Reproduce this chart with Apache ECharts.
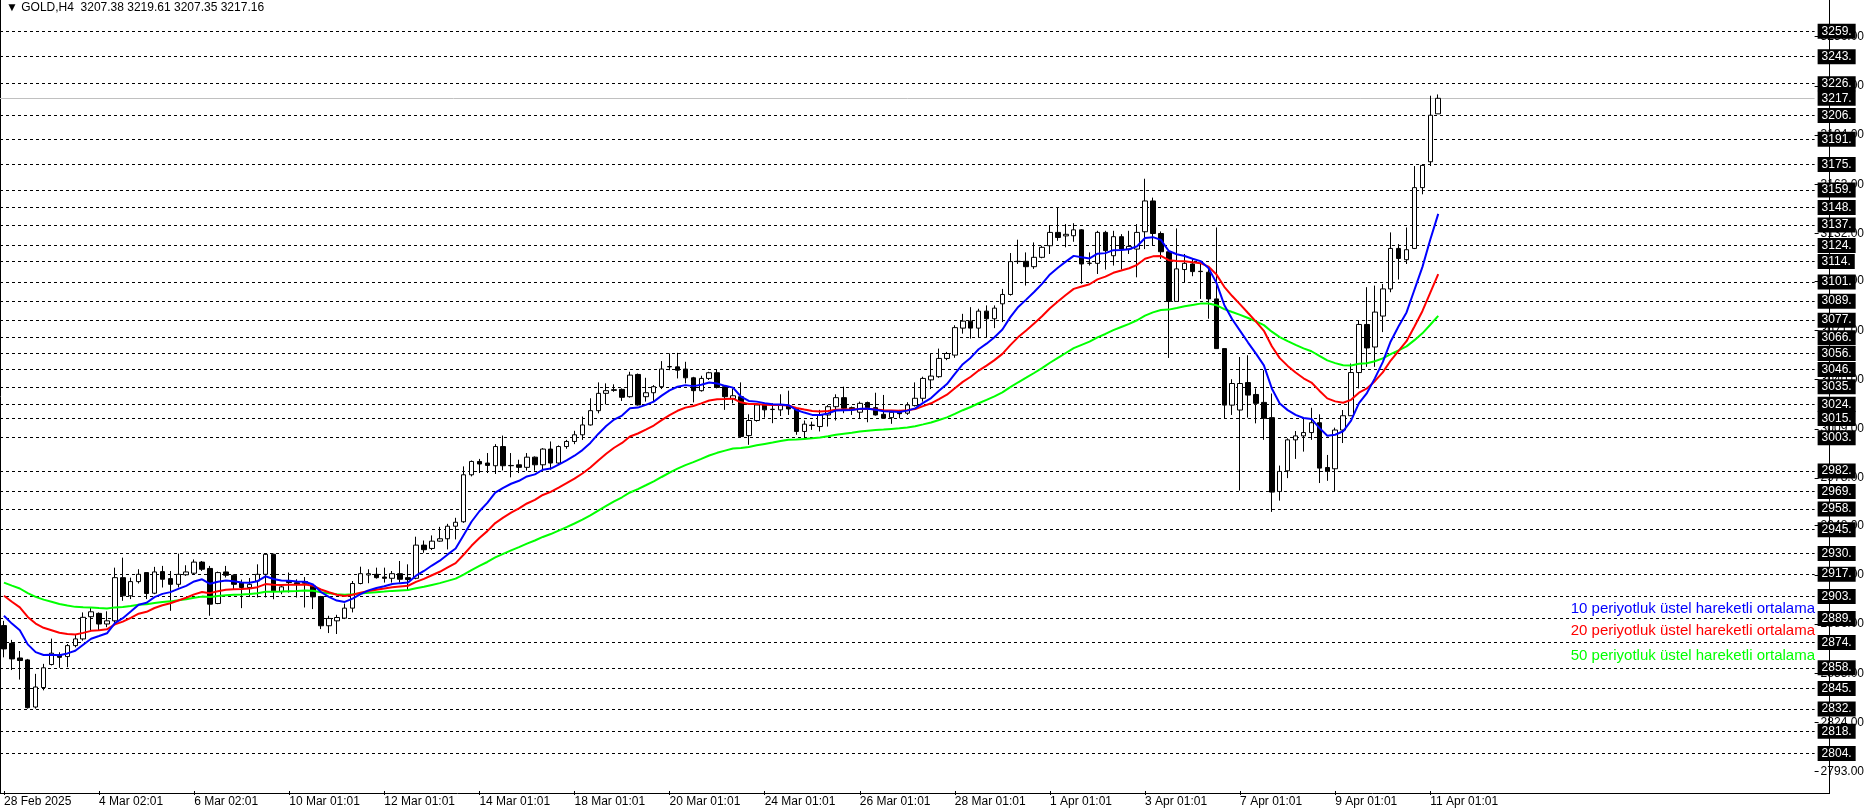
<!DOCTYPE html>
<html><head><meta charset="utf-8">
<script src="https://cdn.jsdelivr.net/npm/echarts@6/dist/echarts.min.js"></script>
<style>html,body{margin:0;padding:0;background:#fff}#c{width:1867px;height:808px}</style>
</head><body><div id="c"></div>
<script>
const tickLabels = ["28 Feb 2025","4 Mar 02:01","6 Mar 02:01","10 Mar 01:01","12 Mar 01:01","14 Mar 01:01","18 Mar 01:01","20 Mar 01:01","24 Mar 01:01","26 Mar 01:01","28 Mar 01:01","1 Apr 01:01","3 Apr 01:01","7 Apr 01:01","9 Apr 01:01","11 Apr 01:01"];
const opens = [2885,2873.8,2864.6,2863.4,2833.7,2846,2860.5,2866.5,2865.5,2872.4,2876.6,2890.6,2892.7,2886,2888,2915.2,2903.8,2912.7,2918.4,2905.4,2919,2914.6,2911,2917,2918,2925,2921,2898.9,2918.8,2916.7,2912,2909,2913.1,2917.3,2929.9,2906.4,2913.1,2912,2912.7,2910,2903.3,2884.9,2888,2889.7,2896,2911.5,2916.9,2917.3,2915.6,2914.8,2917.7,2915.2,2914.8,2935.7,2933.6,2938.2,2939.7,2947.6,2950.4,2980,2988.4,2987.4,2985.7,2997.8,2985.9,2986.3,2984.7,2991.1,2986.3,2996.2,2987.4,2997.8,3001,3005.2,3011.4,3020.4,3031.3,3033.6,3033.8,3029.2,3043.2,3029.2,3031.7,3035.5,3048.2,3048,3046.6,3041.1,3033,3040.7,3044.3,3035.5,3028,3029.2,3004.7,3014.2,3024.6,3021.3,3020.9,3023.4,3021.5,3007.3,3011.3,3010.4,3017.7,3022.9,3028.6,3022.3,3019.4,3025.5,3022.3,3018.1,3016,3020.2,3018.8,3023.6,3028.2,3039.8,3041.8,3053.3,3055.4,3072.4,3076.8,3072.4,3083.1,3078.3,3087.7,3093.6,3114.3,3114.5,3111.1,3117,3124.3,3132.7,3130.5,3130.6,3134.3,3113.2,3113.2,3132.7,3118,3130,3122.2,3122.2,3133.1,3152.5,3132,3120.5,3089.2,3109.3,3112.8,3108.2,3107.6,3090.8,3059.5,3023.9,3020.8,3038.1,3030.6,3025.6,3016,2969.5,2982.5,3002,3004.5,3006.6,3012.8,2984.6,2983.8,3008.2,3017.2,3044.4,3074.7,3060.5,3080,3097.1,3122.6,3115.5,3122.6,3160.9,3177.2,3207.38];
const highs = [2888,2876,2869,2864,2854.6,2860.9,2876.8,2868.2,2873.4,2879.7,2893.3,2896.4,2893.3,2894,2921.5,2927.8,2915.2,2920.5,2918.4,2922,2922.6,2919.4,2930.3,2923,2926.7,2925.7,2922.6,2919,2922.6,2917.3,2914,2915,2923.6,2930.3,2930.3,2911,2918.4,2914.2,2915.6,2911,2903.7,2891.2,2891.8,2898.9,2913.1,2922.1,2920.5,2921.5,2921.5,2919.4,2925.7,2923.6,2941,2938.6,2941.8,2947.2,2949.1,2952.9,2985.3,2989,2990,2993.7,2999.3,3004.7,2993.7,2989.5,2993.7,2991.6,2996.8,3001,2998.5,3002,3007.7,3016.7,3028.2,3038.2,3037.6,3037,3034.4,3044.9,3043.8,3041.1,3036.5,3051.6,3056.4,3056.8,3051.2,3041.7,3042.4,3044.9,3046.6,3036.5,3034.4,3038.2,3018.1,3025,3025,3025,3030.7,3033,3021.9,3014.2,3013.5,3020.9,3024,3030.7,3035.5,3023,3026.1,3026.1,3031.7,3030.3,3019.8,3020.9,3025.7,3038.2,3041.8,3056.4,3059.5,3057.4,3074.2,3081.4,3085.6,3084.6,3086.7,3086.7,3097.1,3119.7,3128.1,3120.1,3126.4,3124.3,3137.3,3148.4,3137.9,3138.5,3134.8,3120.1,3133.7,3133.7,3133.7,3131.6,3133.7,3137.9,3166.5,3154.6,3133.3,3121.2,3135.2,3119.1,3115.9,3113.8,3109.7,3135.8,3059.5,3040.2,3054.2,3055.3,3034.4,3045.9,3031.2,2985.8,3003,3007.6,3015.6,3022.2,3018.1,2992.5,3009.7,3020.8,3050.1,3077.2,3098.2,3099.2,3100.2,3132.7,3125.3,3135.8,3174.5,3174.9,3218.8,3219.61];
const lows = [2865,2857,2851,2832.7,2832.7,2844.2,2859.9,2858.4,2858.8,2871.3,2875.5,2881.8,2881.8,2884,2886,2900.6,2901.7,2911.5,2901.7,2904.8,2909,2894.3,2909,2916.3,2917.3,2919.4,2891.2,2898.5,2915.3,2908,2896,2903,2902.7,2902.7,2901.6,2904.8,2905.8,2902.7,2896.4,2895.4,2882.8,2880.3,2879.7,2889.1,2893.3,2911,2911.7,2914.6,2912.1,2912.1,2912.1,2906.9,2914.2,2930.9,2932.6,2937.8,2933,2939.3,2949.7,2979,2981.1,2981.1,2980.5,2982.8,2978.4,2981.1,2982.6,2982.6,2983.2,2983.2,2986.8,2996.4,2999.3,3002,3011,3018.7,3024.4,3032.3,3026.5,3028.6,3023.6,3026.1,3025.7,3034,3045.9,3040.7,3037.6,3025.6,3032.4,3039.7,3034.4,3020.9,3025,3004.1,2998.9,3013.5,3016,3012.5,3017,3017.7,3005.2,3003.5,3008.3,3007.3,3010.4,3014.2,3018.8,3017.7,3015.6,3013.1,3017.3,3015.2,3012.1,3015.6,3017.7,3023,3026.1,3034,3041.1,3052.2,3053.7,3068.9,3065.8,3066.8,3066.8,3072.4,3076.2,3092.9,3112.8,3099.2,3109.7,3116.4,3119.1,3127.4,3123.3,3126.8,3100.3,3111.8,3106.5,3109.3,3111.8,3109.3,3119.1,3104.4,3122.2,3124.3,3116,3053.6,3089.2,3100.9,3105.1,3090.8,3078.3,3059.5,3015.6,3017.7,2970,3016,3012.4,3002,2956.6,2963.7,2977.9,2990,2994.6,3002,2974.8,2976.2,2969.5,3000,3017.2,3034.4,3048,3048,3069.9,3095,3103,3112.8,3122.2,3156.7,3174.5,3207.35];
const closes = [2870.3,2864,2863,2833.3,2846.3,2858.4,2867.6,2865,2872.4,2876.6,2890.2,2893.7,2886,2888,2915.2,2903.8,2912.7,2917.3,2905.2,2918.8,2914.2,2911,2917.3,2918.8,2925,2920.5,2898.5,2918.4,2916.7,2911,2909,2911,2917.3,2929.9,2906.9,2909.4,2912.1,2911,2911.7,2903.1,2884.9,2889.5,2890.1,2896,2911.5,2917.7,2917.7,2915.2,2914.8,2917.7,2914.2,2914,2935.7,2932.8,2938.2,2939.7,2947.6,2950.1,2980,2988.4,2986.8,2985.9,2997.8,2985.7,2985.7,2984.7,2991.1,2986.3,2996.2,2987.4,2997.8,3001,3005.2,3011.4,3020.4,3031.3,3033,3033.2,3028.8,3042.8,3024,3031.7,3035.5,3046.6,3048,3045.9,3041.1,3033,3040.7,3044.3,3035,3029.2,3029.8,3004.1,3014.2,3024,3020.9,3021.1,3024,3021.5,3007.3,3011.9,3011.1,3017.7,3022.9,3028.6,3021.9,3020.9,3025,3022.3,3017.7,3015.6,3019.4,3018.5,3024,3028.2,3040.7,3042.2,3053.3,3056.4,3072.7,3076.8,3072.4,3083.1,3078.3,3085,3093.6,3114.3,3114.5,3111.1,3117,3123.3,3132.7,3129.5,3131.5,3134.3,3112.8,3113.3,3132.7,3121.2,3130,3122.2,3123.9,3132.7,3152.5,3132,3120.5,3089.2,3109.7,3113.2,3108,3108,3090.8,3059.5,3023.9,3037.5,3037.5,3030.2,3025,3015.6,2969.1,2982.1,3002,3004.5,3006.6,3012.8,2984.2,2982.1,3008.2,3017.2,3044.4,3074.7,3059.9,3082.5,3097.1,3122.6,3116.3,3121.8,3160.9,3174.9,3206.5,3217.16];
const emaSeeds = {10: 2891.2, 20: 2903.8, 50: 2912.1};
const levels = [3259,3243,3226,3206,3191,3175,3159,3148,3137,3124,3114,3101,3089,3077,3066,3056,3046,3035,3024,3015,3003,2982,2969,2958,2945,2930,2917,2903,2889,2874,2858,2845,2832,2818,2804];
const axisTicks = [2793,2824,2855,2886,2917,2948,2978,3009,3040,3071,3102,3132,3163,3194,3225,3256];
const lastPrice = 3217.16;
const legendTexts = ["10 periyotluk üstel hareketli ortalama","20 periyotluk üstel hareketli ortalama","50 periyotluk üstel hareketli ortalama"];

function ema(n){const a=2/(n+1);const out=[];let v=emaSeeds[n];for(let i=0;i<closes.length;i++){if(i>0)v=v+a*(closes[i]-v);out.push(+v.toFixed(2));}return out;}
const N=229;
const cats=[];for(let i=0;i<N;i++)cats.push(i%12===0&&i/12<tickLabels.length?tickLabels[i/12]:'');
const candle=opens.map((o,i)=>[o,closes[i],lows[i],highs[i]]);
const F='Liberation Sans';
const chart=echarts.init(document.getElementById('c'));
const lvlData=levels.map(v=>({yAxis:v+0.4,label:{formatter:v.toFixed(0)+'.',}}));
lvlData.push({yAxis:lastPrice,lineStyle:{color:'#c0c0c0',type:'solid'},label:{formatter:lastPrice.toFixed(0)+'.'}});
chart.setOption({
 animation:false,
 grid:{left:-3,right:38,top:0,bottom:15,containLabel:false},
 xAxis:{type:'category',data:cats,boundaryGap:true,
  axisLine:{show:false},
  axisTick:{show:true,interval:(i)=>i%12===0&&i<=180,alignWithLabel:true,length:4,inside:false,lineStyle:{color:'#000'}},
  axisLabel:{interval:(i)=>i%12===0&&i<=180,align:'left',margin:5,color:'#000',fontFamily:F,fontSize:12},
  splitLine:{show:false}},
 yAxis:{type:'value',position:'right',min:2780.8,max:3279.1,
  axisLine:{show:false},splitLine:{show:false},
  axisTick:{show:true,customValues:axisTicks,length:4,lineStyle:{color:'#000'}},
  axisLabel:{customValues:axisTicks,color:'#000',fontFamily:F,fontSize:12,margin:6,align:'left',formatter:v=>v.toFixed(2)}},
 graphic:[
  {type:'line',shape:{x1:0.5,y1:0,x2:0.5,y2:793},style:{stroke:'#000',lineWidth:1}},
  {type:'line',shape:{x1:1829.5,y1:0,x2:1829.5,y2:793},style:{stroke:'#000',lineWidth:1}},
  {type:'line',shape:{x1:0,y1:793.5,x2:1830,y2:793.5},style:{stroke:'#000',lineWidth:1}},
  {type:'text',left:6,top:2,style:{text:'▼ GOLD,H4  3207.38 3219.61 3207.35 3217.16',fill:'#000',font:'12px '+F}},
  {type:'text',right:52,top:601,style:{text:legendTexts[0],fill:'#0000ff',font:'15px '+F,textAlign:'right'}},
  {type:'text',right:52,top:623,style:{text:legendTexts[1],fill:'#ff0000',font:'15px '+F,textAlign:'right'}},
  {type:'text',right:52,top:648,style:{text:legendTexts[2],fill:'#00ff00',font:'15px '+F,textAlign:'right'}}
 ],
 series:[
  {type:'candlestick',data:candle,barWidth:5,
   itemStyle:{color:'#ffffff',color0:'#000000',borderColor:'#000',borderColor0:'#000',borderWidth:1},
   markLine:{silent:true,symbol:'none',z:1,
    lineStyle:{color:'#000',type:[3,3],width:1},
    label:{position:'end',distance:3,color:'#fff',backgroundColor:'#000',padding:[2,4,1,4],fontFamily:F,fontSize:12},
    data:lvlData}},
  {type:'line',data:ema(50),symbol:'none',lineStyle:{color:'#00ff00',width:2},z:3},
  {type:'line',data:ema(20),symbol:'none',lineStyle:{color:'#ff0000',width:2},z:3},
  {type:'line',data:ema(10),symbol:'none',lineStyle:{color:'#0000ff',width:2},z:3}
 ]
});
</script></body></html>
